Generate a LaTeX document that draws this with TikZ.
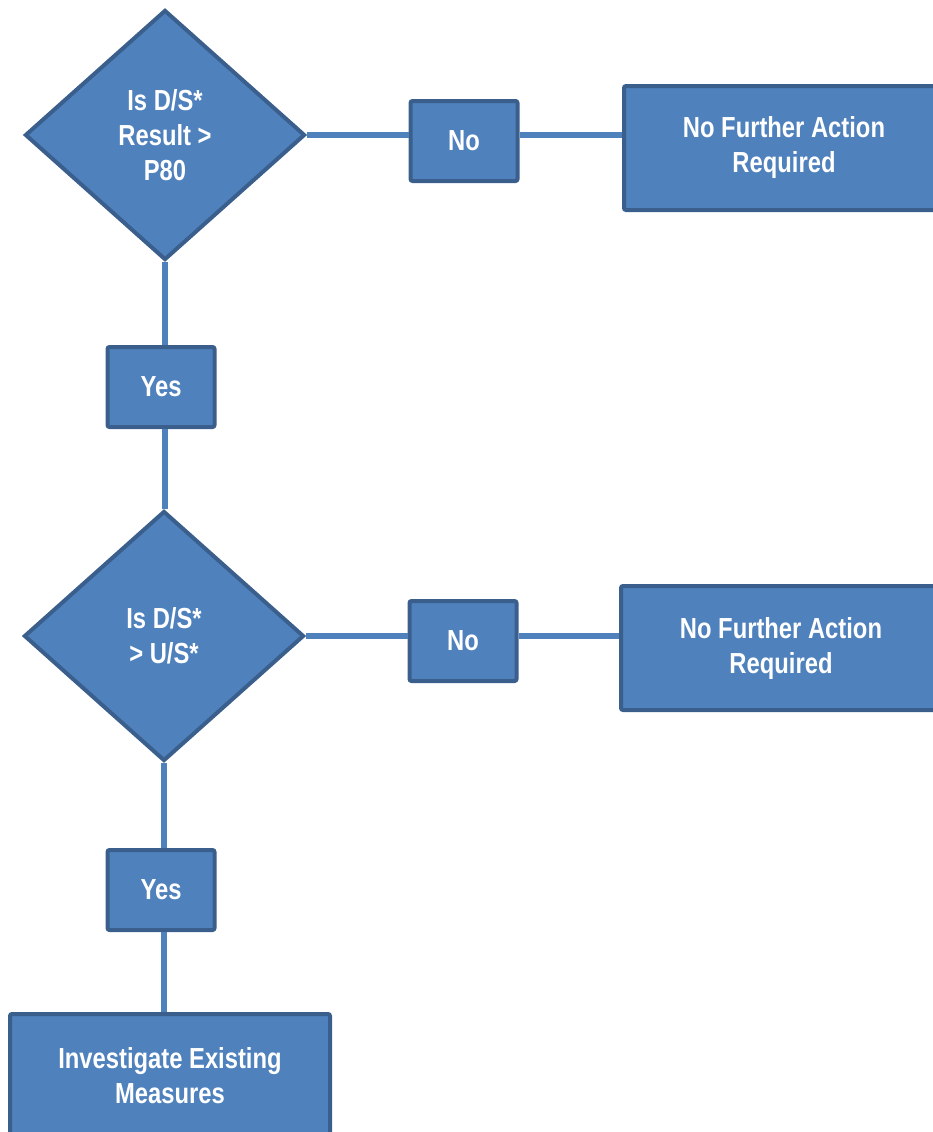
\documentclass[tikz,border=0pt]{standalone}
\usepackage{fontspec}
\setmainfont{Liberation Sans}[FakeStretch=0.82]
\usepackage{xcolor}
\usepackage{tikz}
\usetikzlibrary{shapes.geometric}
\definecolor{boxfill}{HTML}{4F81BD}
\definecolor{boxedge}{HTML}{3A5F8D}

\begin{document}
\begin{tikzpicture}[x=1pt,y=-1pt,
        every node/.style={font=\fontsize{29}{35}\selectfont\bfseries,text=white,align=center},
        decision/.style={diamond,draw=boxedge,fill=boxfill,line width=4pt,inner sep=0pt,minimum width=280pt,minimum height=250pt},
        answer/.style={rectangle,draw=boxedge,fill=boxfill,line width=4pt,rounded corners=2pt,minimum width=107pt,minimum height=80pt},
        outcome/.style={rectangle,draw=boxedge,fill=boxfill,line width=4pt,rounded corners=2pt,minimum width=320pt,minimum height=124pt},
        link/.style={boxfill,line width=5.5pt}]
        \useasboundingbox (0,0) rectangle (933,1132);
        \clip (0,0) rectangle (933,1132);
        % first test
        \node[decision] (p80) at (165,135) {Is D/S*\\Result >\\P80};
        \node[answer] (no1) at (464,141) {No};
        \node[outcome] (stop1) at (784,148) {No Further Action\\Required};
        \node[answer] (yes1) at (161,387) {Yes};
        % second test
        \node[decision] (us) at (164,636) {Is D/S*\\> U/S*};
        \node[answer] (no2) at (463,641) {No};
        \node[outcome] (stop2) at (781,648) {No Further Action\\Required};
        \node[answer] (yes2) at (161,890) {Yes};
        \node[outcome] (invest) at (170,1076) {Investigate Existing\\Measures};
        % connectors
        \draw[link] (p80.east) -- (p80.east -| no1.west);
        \draw[link] (p80.east -| no1.east) -- (p80.east -| stop1.west);
        \draw[link] (p80.south) -- (p80.south |- yes1.north);
        \draw[link] (p80.south |- yes1.south) -- (p80.south |- us.north);
        \draw[link] (us.east) -- (us.east -| no2.west);
        \draw[link] (us.east -| no2.east) -- (us.east -| stop2.west);
        \draw[link] (us.south) -- (us.south |- yes2.north);
        \draw[link] (us.south |- yes2.south) -- (us.south |- invest.north);
    \end{tikzpicture}
\end{document}
